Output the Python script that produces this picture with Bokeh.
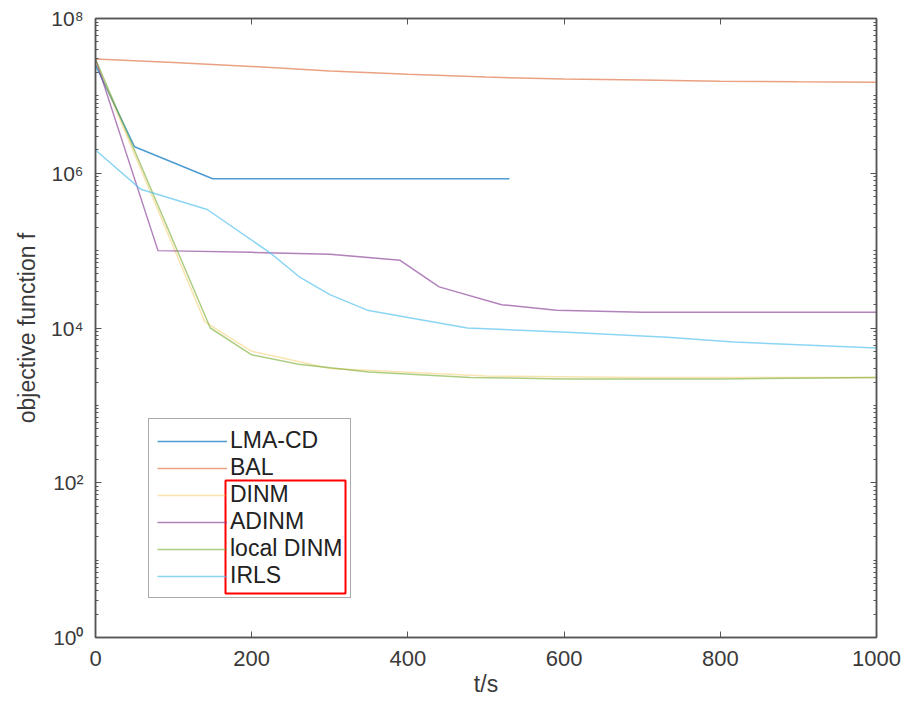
from bokeh.plotting import figure
from bokeh.models import (FixedTicker, LogAxis, LinearAxis, Legend, LegendItem,
                          BoxAnnotation, Range1d)
from bokeh.embed import file_html
from bokeh.resources import INLINE

# ---- data ----
t_lma = [0, 50, 150, 530]
f_lma = [2.5e7, 2.2e6, 8.5e5, 8.5e5]

t_bal = [0, 100, 200, 300, 400, 500, 600, 700, 800, 900, 1000]
f_bal = [3.0e7, 2.7e7, 2.4e7, 2.1e7, 1.9e7, 1.75e7, 1.65e7, 1.6e7, 1.55e7, 1.52e7, 1.5e7]

t_dinm = [0, 140, 200, 300, 500, 700, 1000]
f_dinm = [2.8e7, 1.2e4, 5.0e3, 3.0e3, 2.4e3, 2.3e3, 2.3e3]

t_adinm = [0, 80, 200, 300, 390, 440, 520, 590, 700, 1000]
f_adinm = [3.0e7, 1.0e5, 9.5e4, 9.0e4, 7.5e4, 3.4e4, 2.0e4, 1.7e4, 1.6e4, 1.6e4]

t_local = [0, 147, 200, 260, 350, 480, 600, 800, 1000]
f_local = [3.0e7, 1.0e4, 4.5e3, 3.4e3, 2.7e3, 2.3e3, 2.2e3, 2.2e3, 2.3e3]

t_irls = [0, 58, 143, 224, 262, 300, 348, 476, 604, 732, 817, 1000]
f_irls = [2.0e6, 6.2e5, 3.4e5, 9.3e4, 4.5e4, 2.7e4, 1.7e4, 1.0e4, 8.8e3, 7.6e3, 6.6e3, 5.5e3]

names = ["LMA-CD", "BAL", "DINM", "ADINM", "local DINM", "IRLS"]
colors = ["#0072BD", "#D95319", "#EDB120", "#7E2F8E", "#77AC30", "#4DBEEE"]
alphas = [0.7, 0.55, 0.35, 0.6, 0.6, 0.65]

x_ticks = [0, 200, 400, 600, 800, 1000]
y_ticks = [1, 1e2, 1e4, 1e6, 1e8]
y_tick_labels = ["10\u2070", "10\u00b2", "10\u2074", "10\u2076", "10\u2078"]

FONT = "Liberation Sans"
AX = "#555555"

p = figure(frame_width=781, frame_height=619,
           min_border_left=95, min_border_right=29, min_border_top=18, min_border_bottom=74,
           y_axis_type="log", x_range=Range1d(0, 1000), y_range=Range1d(1, 1e8),
           output_backend="svg", toolbar_location=None, background_fill_color="white",
           border_fill_color="white")
p.grid.visible = False
p.outline_line_color = AX
p.outline_line_width = 1.5

minor = [m * 10 ** k for k in range(0, 8) for m in range(2, 10)] + [10 ** k for k in (1, 3, 5, 7)]

def style_axis(ax, labels=True):
    ax.axis_line_color = AX
    ax.axis_line_width = 1.5
    ax.major_tick_in = 6
    ax.major_tick_out = 0
    ax.minor_tick_in = 3
    ax.minor_tick_out = 0
    ax.major_tick_line_color = AX
    ax.minor_tick_line_color = AX
    ax.major_label_text_font = FONT
    ax.major_label_text_font_size = "22px"
    ax.major_label_text_color = "#3a3a3a"
    ax.axis_label_text_font = FONT
    ax.axis_label_text_font_size = "23px"
    ax.axis_label_text_font_style = "normal"
    ax.axis_label_text_color = "#3a3a3a"
    if not labels:
        ax.major_label_text_color = None
        ax.major_label_text_alpha = 0

xax = p.xaxis[0]
xax.ticker = FixedTicker(ticks=x_ticks)
xax.axis_label = "t/s"
style_axis(xax)
xax.major_label_standoff = 13
xax.axis_label_standoff = 2

yax = p.yaxis[0]
yax.ticker = FixedTicker(ticks=y_ticks, minor_ticks=minor)
yax.major_label_overrides = {t: l for t, l in zip(y_ticks, y_tick_labels)}
yax.axis_label = "objective function f"
style_axis(yax)
yax.major_label_text_font_size = "21px"
yax.major_label_standoff = 12
yax.axis_label_standoff = 8

top = LinearAxis(ticker=FixedTicker(ticks=x_ticks))
style_axis(top, labels=False)
p.add_layout(top, "above")
right = LogAxis(ticker=FixedTicker(ticks=y_ticks, minor_ticks=minor))
style_axis(right, labels=False)
p.add_layout(right, "right")

series = [(t_lma, f_lma), (t_bal, f_bal), (t_dinm, f_dinm),
          (t_adinm, f_adinm), (t_local, f_local), (t_irls, f_irls)]
items = []
for (t, f), n, c, a in zip(series, names, colors, alphas):
    r = p.line(t, f, line_color=c, line_width=1.5, line_alpha=a)
    items.append(LegendItem(label=n, renderers=[r]))

legend = Legend(items=items, location=(53, 39))
legend.label_text_font = FONT
legend.label_text_font_size = "23px"
legend.label_text_color = "#222222"
legend.glyph_width = 70
legend.glyph_height = 20
legend.label_height = 20
legend.label_standoff = 3
legend.spacing = 0
legend.padding = 8
legend.margin = 0
legend.border_line_color = AX
legend.border_line_width = 1.5
legend.background_fill_alpha = 0.0
p.add_layout(legend, "center")

# red highlight rectangle around part of the legend
box = BoxAnnotation(left=130, right=250, bottom=44, top=157,
                    left_units="screen", right_units="screen",
                    bottom_units="screen", top_units="screen",
                    fill_alpha=0, line_color="#ff0000", line_alpha=1.0, line_width=2)
p.add_layout(box)

open("out.html", "w").write(file_html(p, INLINE))
